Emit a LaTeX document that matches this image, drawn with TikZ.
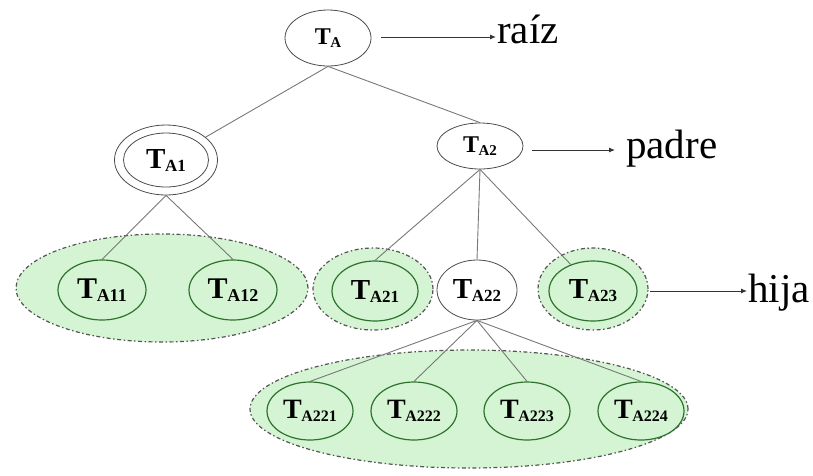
\documentclass[tikz,border=0pt]{standalone}
\usepackage{fontspec}
\setmainfont{Liberation Serif}
\usetikzlibrary{shapes.geometric,arrows.meta}
\definecolor{lgreen}{RGB}{213,244,211}
\definecolor{dgreen}{RGB}{45,115,45}
\definecolor{edgegray}{RGB}{120,120,120}
\definecolor{dashgray}{RGB}{85,85,85}
\newcommand{\tlab}[3]{{\fontsize{#1}{#1}\selectfont\bfseries T}\kern-0.05em\raisebox{-0.3em}{\fontsize{#2}{#2}\selectfont\bfseries #3}}
\tikzset{
  plainnode/.style={ellipse,draw=black!70,line width=0.8pt,fill=white,inner sep=0pt},
  greennode/.style={ellipse,draw=dgreen,line width=1.2pt,fill=lgreen,inner sep=0pt},
  groupell/.style={ellipse,draw=dashgray,line width=1.2pt,fill=lgreen,inner sep=0pt,
    dash pattern=on 4pt off 2.5pt on 1.5pt off 2.5pt},
  treeedge/.style={draw=edgegray,line width=0.9pt},
  labarrow/.style={draw=black!80,line width=1pt,-{Latex[length=6pt,width=5pt]}},
  lab/.style={anchor=base west,inner sep=0pt,font=\fontsize{41}{41}\selectfont}
}
\begin{document}
\begin{tikzpicture}[x=1pt,y=-1pt]
\useasboundingbox (0,0) rectangle (813,475);
% group backgrounds
\node[groupell,minimum width=292pt,minimum height=108pt] (g1) at (162,288) {};
\node[groupell,minimum width=120pt,minimum height=82pt] (g21) at (373,289) {};
\node[groupell,minimum width=110pt,minimum height=82pt] (g23) at (593,289) {};
\node[groupell,minimum width=438pt,minimum height=118pt] (g3) at (469,409) {};
% nodes
\node[plainnode,minimum width=86pt,minimum height=56pt] (TA) at (328,38) {\tlab{24}{15}{A}};
\node[plainnode,minimum width=103pt,minimum height=70pt] (TA1o) at (166,160) {};
\node[plainnode,minimum width=85pt,minimum height=54pt] (TA1) at (166,160) {\tlab{29}{17}{A1}};
\node[plainnode,minimum width=86pt,minimum height=46pt] (TA2) at (480,146) {\tlab{24}{15}{A2}};
\node[greennode,minimum width=88pt,minimum height=60pt] (TA11) at (102,290) {\tlab{30}{18}{A11}};
\node[greennode,minimum width=88pt,minimum height=60pt] (TA12) at (233,290) {\tlab{30}{18}{A12}};
\node[greennode,minimum width=86pt,minimum height=60pt] (TA21) at (375,291) {\tlab{29}{17}{A21}};
\node[plainnode,minimum width=80pt,minimum height=60pt] (TA22) at (477,290) {\tlab{29}{17}{A22}};
\node[greennode,minimum width=88pt,minimum height=60pt] (TA23) at (593,291) {\tlab{29}{17}{A23}};
\node[greennode,minimum width=86pt,minimum height=58pt] (TA221) at (310,411) {\tlab{28}{16}{A221}};
\node[greennode,minimum width=86pt,minimum height=58pt] (TA222) at (414,411) {\tlab{28}{16}{A222}};
\node[greennode,minimum width=86pt,minimum height=58pt] (TA223) at (527,411) {\tlab{28}{16}{A223}};
\node[greennode,minimum width=86pt,minimum height=58pt] (TA224) at (641,411) {\tlab{28}{16}{A224}};
% edges
\path[treeedge] (TA.south) -- (TA1o);
\path[treeedge] (TA.south) -- (TA2.north);
\path[treeedge] (TA1o.south) -- (TA11.north);
\path[treeedge] (TA1o.south) -- (TA12.north);
\path[treeedge] (TA2.south) -- (TA21.north);
\path[treeedge] (TA2.south) -- (TA22.north);
\path[treeedge] (TA2.south) -- (TA23.130);
\path[treeedge] (TA22.south) -- (TA221.north);
\path[treeedge] (TA22.south) -- (TA222.north);
\path[treeedge] (TA22.south) -- (TA223.north);
\path[treeedge] (TA22.south) -- (TA224.north);
% labels
\node[lab] (raiz) at (497,43) {raíz};
\node[lab] (padre) at (626,158) {padre};
\node[lab] (hija) at (748,302) {hija};
\coordinate (ra) at (381,37);
\coordinate (pa) at (532,150);
\coordinate (ha) at (650,291);
\draw[labarrow] (ra) -- ([xshift=-1pt]raiz.west |- ra);
\draw[labarrow] (pa) -- ([xshift=-11pt]padre.west |- pa);
\draw[labarrow] (ha) -- ([xshift=-1pt]hija.west |- ha);
\end{tikzpicture}
\end{document}
